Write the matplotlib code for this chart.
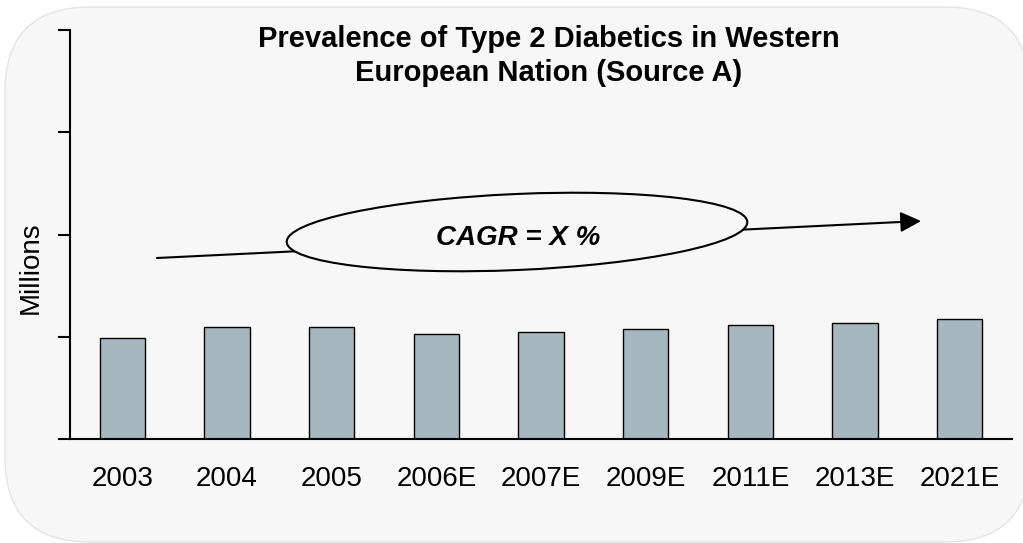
import matplotlib
matplotlib.use("Agg")
import matplotlib.pyplot as plt
from matplotlib.patches import FancyBboxPatch, Ellipse, FancyArrowPatch

plt.rcParams['font.family'] = ['Liberation Sans', 'DejaVu Sans']

# Data
categories = ["2003", "2004", "2005", "2006E", "2007E", "2009E", "2011E", "2013E", "2021E"]
values = [0.99, 1.095, 1.095, 1.03, 1.05, 1.075, 1.12, 1.14, 1.18]
y_ticks = [0, 1, 2, 3, 4]
title_lines = ["Prevalence of Type 2 Diabetics in Western", "European Nation (Source A)"]
y_label = "Millions"
cagr_text = "CAGR = X %"

W, H = 1023, 543
fig = plt.figure(figsize=(W / 100, H / 100), dpi=100)
fig.patch.set_facecolor("white")

def px(x, y):
    """pixel (from top-left) -> inches for dpi_scale_trans"""
    return x / 100, (H - y) / 100

# rounded background
bx0, by0 = px(5, 542)
bg = FancyBboxPatch((bx0, by0), (1030 - 5) / 100, (542 - 7) / 100,
                    boxstyle="round,pad=0,rounding_size=0.85",
                    transform=fig.dpi_scale_trans, facecolor="#f7f7f7",
                    edgecolor="#e4e4e4", linewidth=1.0, zorder=-5)
fig.patches.append(bg)

ax = fig.add_axes([70 / W, 1 - 439.3 / H, (1012 - 70) / W, (439.3 - 30) / H])
ax.set_facecolor("none")
ax.set_zorder(1)
x = list(range(len(categories)))
ax.bar(x, values, width=0.43, color="#a7b7c0", edgecolor="black", linewidth=1.0, zorder=2)
ax.set_xlim(-0.5, len(categories) - 0.5)
ax.set_ylim(0, 4)
ax.set_yticks(y_ticks)
ax.set_yticklabels([])
ax.tick_params(axis='y', direction='out', length=9, width=1.5, color='black')
ax.set_xticks(x)
ax.set_xticklabels(categories, fontsize=20)
ax.tick_params(axis='x', length=0, pad=19)
for s in ["top", "right"]:
    ax.spines[s].set_visible(False)
for s in ["left", "bottom"]:
    ax.spines[s].set_linewidth(1.5)
    ax.spines[s].set_color("black")

# y label
fig.text(31 / W, 1 - 268 / H, y_label, rotation=90, ha="center", va="center", fontsize=20)

# title
fig.text(548.5 / W, 1 - 47.4 / H, title_lines[0], ha="center", va="baseline",
         fontsize=21, fontweight="bold")
fig.text(548.5 / W, 1 - 81 / H, title_lines[1], ha="center", va="baseline",
         fontsize=21, fontweight="bold")

# CAGR arrow line
arrow = FancyArrowPatch(px(157, 258), px(921, 221), transform=fig.dpi_scale_trans,
                        arrowstyle="-|>,head_length=1.25,head_width=0.62",
                        mutation_scale=10, color="black", linewidth=1.5,
                        shrinkA=0, shrinkB=0, zorder=3)
fig.patches.append(arrow)

# ellipse
ell = Ellipse(px(517, 232), 461 / 100, 76 / 100, angle=2.5,
              transform=fig.dpi_scale_trans, facecolor="#f7f7f7",
              edgecolor="black", linewidth=1.5, zorder=4)
fig.patches.append(ell)

fig.text(518 / W, 1 - 245 / H, cagr_text, ha="center", va="baseline",
         fontsize=20, fontweight="bold", fontstyle="italic", zorder=5)

fig.savefig("out.png", dpi=100)
